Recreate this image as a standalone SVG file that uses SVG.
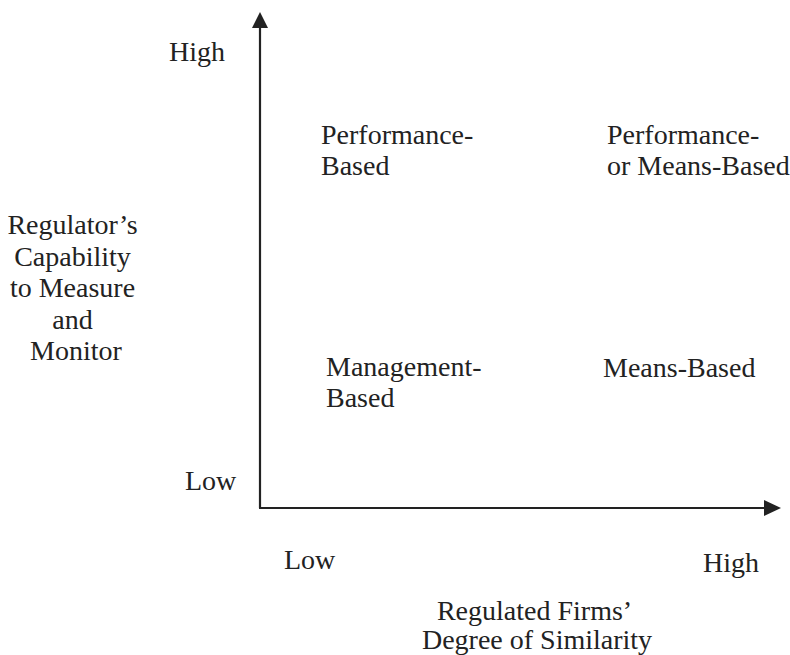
<svg xmlns="http://www.w3.org/2000/svg" width="790" height="655" viewBox="0 0 790 655">
<style>
.c{text-anchor:middle}
.ax{stroke:#222;stroke-width:2.2;fill:none}
.hd{fill:#222}
</style>
<rect width="790" height="655" fill="#fff"/>
<g id="connectors">
<path class="ax" d="M260,508 L260,22"/>
<path class="hd" d="M252,28 L260,12 L268,28 Z"/>
<path class="ax" d="M259,508 L768,508"/>
<path class="hd" d="M764,500 L781,508 L764,516 Z"/>
</g>
<g font-family="'Liberation Serif', serif" font-size="28" fill="#222">
<g id="y-high"><text x="169" y="61">High</text></g>
<g id="y-low"><text x="185" y="490">Low</text></g>
<g id="y-label"><text class="c">
<tspan x="76" y="234">Regulator’s</tspan>
<tspan x="76" y="265.5">Capability</tspan>
<tspan x="76" y="297">to Measure</tspan>
<tspan x="76" y="328.5">and</tspan>
<tspan x="76" y="360">Monitor</tspan>
</text></g>
<g id="q-performance"><text><tspan x="321" y="144">Performance-</tspan><tspan x="321" y="175">Based</tspan></text></g>
<g id="q-perf-means"><text><tspan x="607" y="144">Performance-</tspan><tspan x="607" y="175">or Means-Based</tspan></text></g>
<g id="q-management"><text><tspan x="326" y="376">Management-</tspan><tspan x="326" y="407">Based</tspan></text></g>
<g id="q-means"><text x="603" y="377">Means-Based</text></g>
<g id="x-low"><text x="284" y="569">Low</text></g>
<g id="x-high"><text x="703" y="572">High</text></g>
<g id="x-label"><text class="c">
<tspan x="537" y="620">Regulated Firms’</tspan>
<tspan x="537" y="649">Degree of Similarity</tspan>
</text></g>
</g>
</svg>
